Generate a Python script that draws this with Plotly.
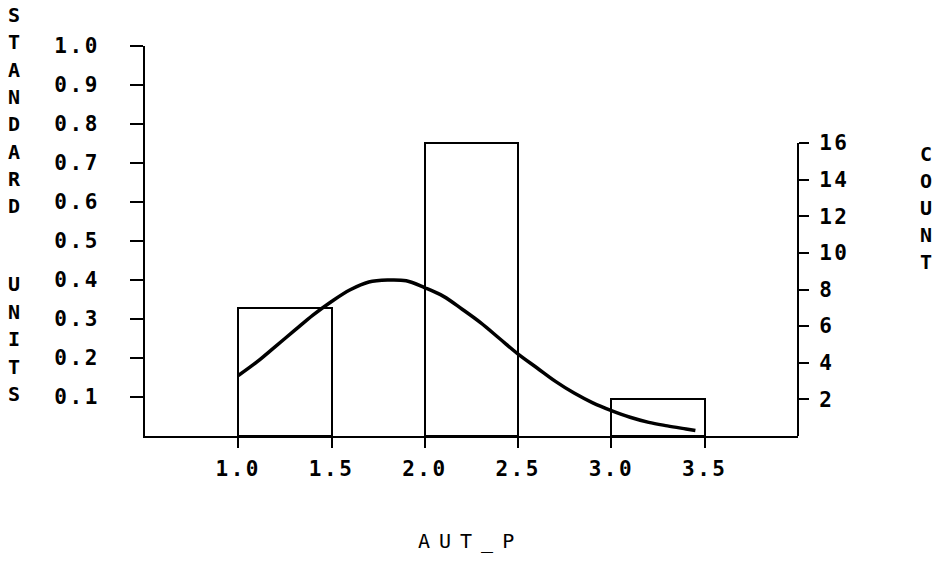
import plotly.graph_objects as go

# ---- data ----
bin_lo = [1.0, 2.0, 3.0]
bin_hi = [1.5, 2.5, 3.5]
counts = [7, 16, 2]

curve_x = [1.0, 1.1, 1.2, 1.3, 1.4, 1.5, 1.6, 1.7, 1.8, 1.9, 2.0, 2.1, 2.2,
           2.3, 2.4, 2.5, 2.6, 2.7, 2.8, 2.9, 3.0, 3.1, 3.2, 3.3, 3.4, 3.45]
curve_y = [0.155, 0.19, 0.23, 0.27, 0.31, 0.345, 0.375, 0.395, 0.40, 0.398,
           0.38, 0.358, 0.325, 0.29, 0.25, 0.21, 0.175, 0.14, 0.11, 0.085,
           0.065, 0.048, 0.035, 0.026, 0.018, 0.014]

x_ticks = [1.0, 1.5, 2.0, 2.5, 3.0, 3.5]
x_ticklabels = ["1.0", "1.5", "2.0", "2.5", "3.0", "3.5"]
left_ticks = [0.1, 0.2, 0.3, 0.4, 0.5, 0.6, 0.7, 0.8, 0.9, 1.0]
left_ticklabels = ["0.1", "0.2", "0.3", "0.4", "0.5", "0.6", "0.7", "0.8", "0.9", "1.0"]
right_ticks = [2, 4, 6, 8, 10, 12, 14, 16]
right_ticklabels = ["2", "4", "6", "8", "10", "12", "14", "16"]

x_title = "AUT_P"
left_title_words = ["STANDARD", "UNITS"]
right_title = "COUNT"

# ---- layout geometry (pixels) ----
W, H = 949, 567
L, R, T, B = 145, 151, 46, 131
plot_w = W - L - R
plot_h = H - T - B
x_range = [0.5, 4.0]
left_range = [0.0, 1.0]
right_range = [0.0, 21.3]

FONT = "DejaVu Sans Mono"
INK = "black"


def sp(txt, ls=2.5):
    return f'<span style="letter-spacing:{ls}px">{txt}</span>'


def px_to_paper(px, py):
    return (px - L) / plot_w, (H - B - py) / plot_h


fig = go.Figure()

fig.add_trace(go.Bar(
    x=[(a + b) / 2 for a, b in zip(bin_lo, bin_hi)],
    y=counts,
    width=[b - a for a, b in zip(bin_lo, bin_hi)],
    yaxis="y2",
    marker=dict(color="rgba(0,0,0,0)", line=dict(color=INK, width=2)),
    showlegend=False,
    hoverinfo="skip",
))

fig.add_trace(go.Scatter(
    x=curve_x, y=curve_y, mode="lines",
    line=dict(color=INK, width=3.5, shape="spline"),
    showlegend=False, hoverinfo="skip",
))

axis_common = dict(showgrid=False, zeroline=False, ticks="outside",
                   tickcolor=INK, tickwidth=2)

fig.update_layout(
    width=W, height=H,
    margin=dict(l=L, r=R, t=T, b=B, pad=0),
    paper_bgcolor="white", plot_bgcolor="white",
    font=dict(family=FONT, color=INK),
    bargap=0,
    xaxis=dict(range=x_range, tickvals=x_ticks,
               ticktext=[sp(t) for t in x_ticklabels],
               ticklen=10, showline=True, linecolor=INK, linewidth=2,
               tickfont=dict(size=21, family=FONT, weight="bold"),
               ticklabelstandoff=3, **axis_common),
    yaxis=dict(range=left_range, tickvals=left_ticks,
               ticktext=[sp(t) for t in left_ticklabels],
               ticklen=13, showline=True, linecolor=INK, linewidth=2,
               tickfont=dict(size=21, family=FONT, weight="bold"),
               ticklabelstandoff=26, **axis_common),
    yaxis2=dict(range=right_range, overlaying="y", side="right",
                tickvals=right_ticks,
                ticktext=[sp(t) for t in right_ticklabels],
                ticklen=10, showline=False,
                tickfont=dict(size=21, family=FONT, weight="bold"),
                ticklabelstandoff=6, **axis_common),
)

# right axis line only up to the top count tick
fig.add_shape(type="line", xref="paper", yref="y2", x0=1, x1=1,
              y0=right_range[0], y1=max(right_ticks),
              line=dict(color=INK, width=2))

annots = []


def letter(ch, px, py):
    xp, yp = px_to_paper(px, py)
    annots.append(dict(text=ch, x=xp, y=yp, xref="paper", yref="paper",
                       showarrow=False, xanchor="center", yanchor="middle",
                       font=dict(size=20, family=FONT, weight="bold")))


# stacked left title: two words
for i, ch in enumerate(left_title_words[0]):
    letter(ch, 14, 15 + i * 27.3)
for i, ch in enumerate(left_title_words[1]):
    letter(ch, 14, 284 + i * 27.5)
# stacked right title
for i, ch in enumerate(right_title):
    letter(ch, 926, 154 + i * 27)
# x title
xp, yp = px_to_paper(470, 541)
annots.append(dict(text=sp(x_title, 9), x=xp, y=yp, xref="paper", yref="paper",
                   showarrow=False, xanchor="center", yanchor="middle",
                   font=dict(size=20, family=FONT)))
fig.update_layout(annotations=annots)

fig.write_html("out.html")
